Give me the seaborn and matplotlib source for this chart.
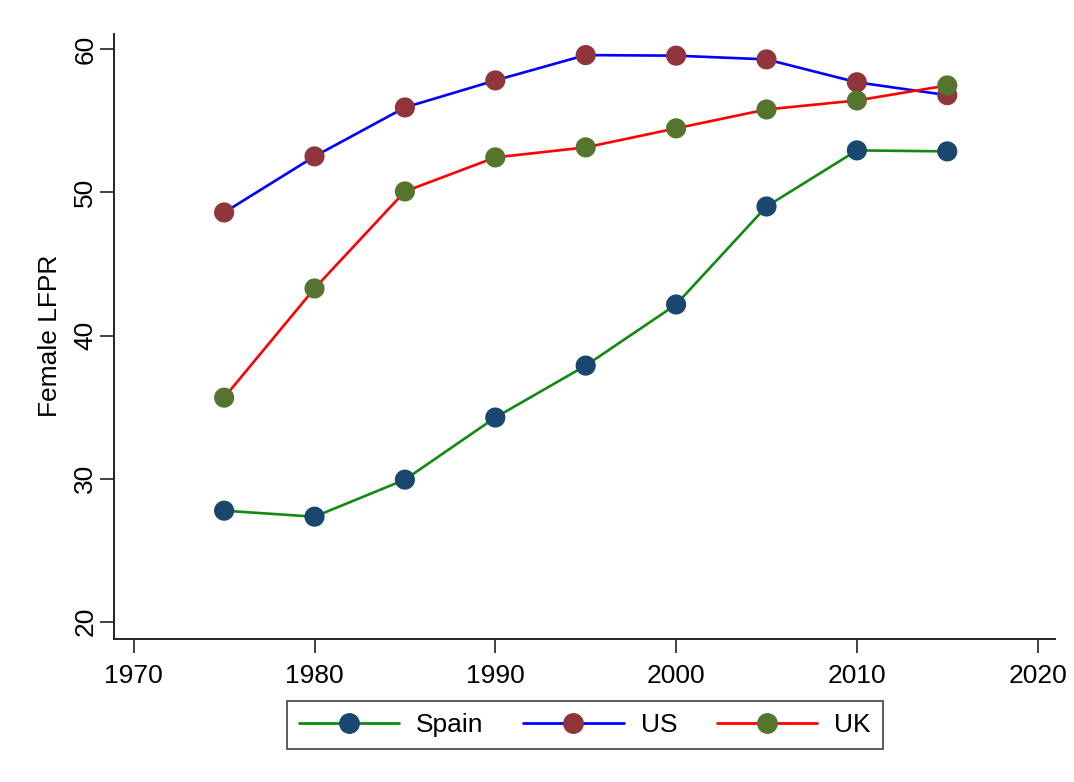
import pandas as pd
import matplotlib.pyplot as plt
import seaborn as sns
from matplotlib.lines import Line2D

sns.set_theme(style="white")
plt.rcParams['font.family'] = ['Liberation Sans', 'DejaVu Sans']
plt.rcParams['text.color'] = 'black'
plt.rcParams['axes.labelcolor'] = 'black'
plt.rcParams['xtick.color'] = 'black'
plt.rcParams['ytick.color'] = 'black'

years = [1975, 1980, 1985, 1990, 1995, 2000, 2005, 2010, 2015]
spain = [27.76, 27.34, 29.93, 34.27, 37.9, 42.17, 49.02, 52.94, 52.87]
us = [48.6, 52.52, 55.94, 57.83, 59.6, 59.56, 59.3, 57.7, 56.8]
uk = [35.66, 43.29, 50.07, 52.45, 53.15, 54.48, 55.8, 56.43, 57.48]

countries = ["Spain", "US", "UK"]
line_colors = {"Spain": "#128a12", "US": "#0000ff", "UK": "#ff0000"}
marker_colors = {"Spain": "#1a476f", "US": "#90353b", "UK": "#55752f"}

df = pd.DataFrame({
    "year": years * 3,
    "lfpr": spain + us + uk,
    "country": ["Spain"] * len(years) + ["US"] * len(years) + ["UK"] * len(years),
})

fig = plt.figure(figsize=(10.74, 7.82), dpi=100)
ax = fig.add_axes([0.106, 0.183, 0.876, 0.774])

sns.lineplot(data=df, x="year", y="lfpr", hue="country", hue_order=countries,
             palette=line_colors, linewidth=1.9, legend=False, ax=ax)
sns.scatterplot(data=df, x="year", y="lfpr", hue="country", hue_order=countries,
                palette=marker_colors, s=210, edgecolor="none", legend=False,
                ax=ax, zorder=3)

ax.set_xlim(1968.9, 2020.94)
ax.set_ylim(18.8, 61.1)
ax.set_xticks([1970, 1980, 1990, 2000, 2010, 2020])
ax.set_yticks([20, 30, 40, 50, 60])
ax.set_xlabel("")
ax.set_ylabel("Female LFPR", fontsize=19, labelpad=8)

for side in ["top", "right"]:
    ax.spines[side].set_visible(False)
for side in ["left", "bottom"]:
    ax.spines[side].set_color("#222222")
    ax.spines[side].set_linewidth(1.4)

ax.tick_params(axis="both", which="major", labelsize=19, length=10, width=1.2,
               color="#222222", direction="out", left=True, bottom=True)
ax.tick_params(axis="x", pad=8)
ax.tick_params(axis="y", pad=2)
plt.setp(ax.get_yticklabels(), rotation=90, va="center")

handles = [Line2D([0], [0], color=line_colors[c], linewidth=2.0, marker="o",
                  markersize=14, markerfacecolor=marker_colors[c],
                  markeredgecolor=marker_colors[c]) for c in countries]
leg = fig.legend(handles, countries, loc="center", bbox_to_anchor=(0.5445, 0.0729),
                 ncol=3, fontsize=19, frameon=True, fancybox=False,
                 handlelength=3.8, handletextpad=0.65, columnspacing=1.5,
                 borderpad=0.45, borderaxespad=0)
leg.get_frame().set_edgecolor("#222222")
leg.get_frame().set_linewidth(1.3)

fig.savefig("out.png", dpi=100, facecolor="white")
